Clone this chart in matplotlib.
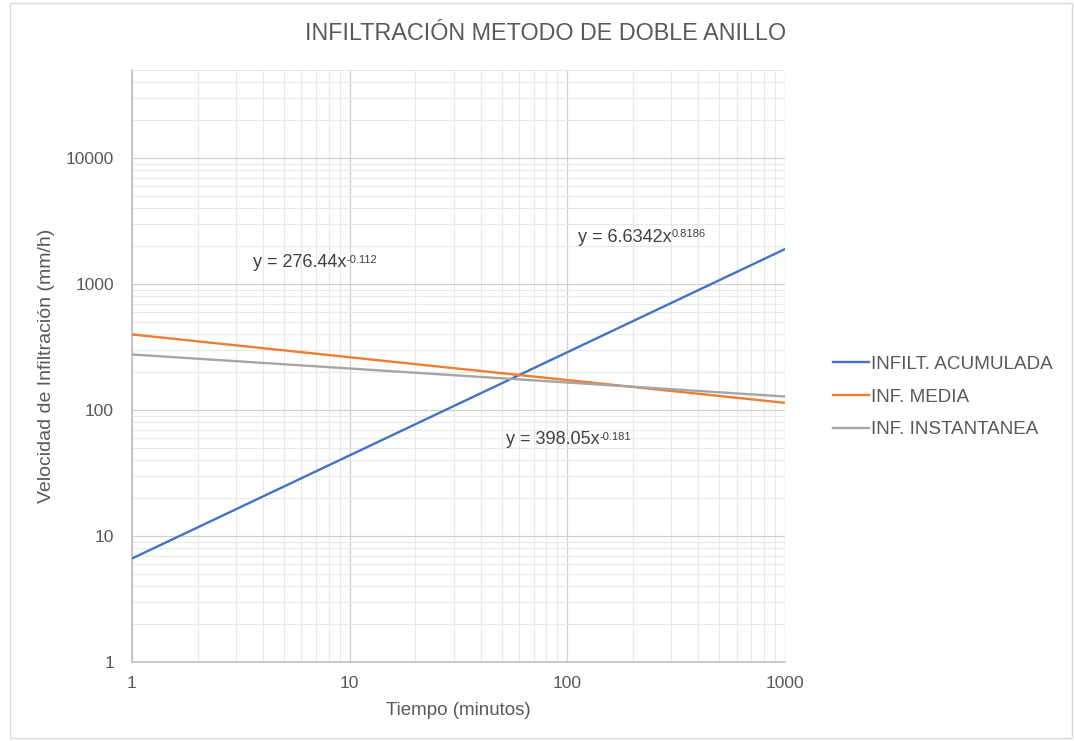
import matplotlib
matplotlib.use('Agg')
import matplotlib.pyplot as plt
from matplotlib.patches import Rectangle

# endpoints of the power trendlines (x in minutes, y in mm/h)
tiempo = [1, 1000]
inf_acumulada = [6.63, 1895]
inf_media = [398, 114]
inf_instantanea = [276, 128]

series_names = ['INFILT. ACUMULADA', 'INF. MEDIA', 'INF. INSTANTANEA']
series_colors = ['#4472C4', '#ED7D31', '#A5A5A5']

# trendline equations: base text, exponent, position (data coords)
eq_base = ['y = 276.44x', 'y = 6.6342x', 'y = 398.05x']
eq_exp = ['-0.112', '0.8186', '-0.181']
eq_pos = [(3.6, 1470), (112, 2360), (52, 58)]

plt.rcParams['font.family'] = ['Liberation Sans', 'DejaVu Sans']

txt = '#595959'

fig = plt.figure(figsize=(10.74, 7.41), dpi=100)
ax = fig.add_axes([132/1074, 79/741, 653/1074, 592/741])

for vals, name, col in zip([inf_acumulada, inf_media, inf_instantanea], series_names, series_colors):
	ax.plot(tiempo, vals, color=col, lw=1.7, label=name, zorder=3)

ax.set_xscale('log')
ax.set_yscale('log')
ax.set_xlim(1, 1000)
ax.set_ylim(1, 50000)

ax.grid(which='major', color='#D0D0D0', lw=0.9)
ax.grid(which='minor', color='#E8E8E8', lw=0.8)
ax.set_axisbelow(True)

ax.xaxis.set_major_formatter(matplotlib.ticker.FuncFormatter(lambda v, p: '%d' % v))
ax.yaxis.set_major_formatter(matplotlib.ticker.FuncFormatter(lambda v, p: '%d' % v))
ax.xaxis.set_minor_formatter(matplotlib.ticker.NullFormatter())
ax.yaxis.set_minor_formatter(matplotlib.ticker.NullFormatter())
ax.tick_params(which='both', length=0, colors=txt, labelsize=12.5)
ax.tick_params(axis='x', pad=10)
ax.tick_params(axis='y', pad=13)

for s in ['top', 'right']:
	ax.spines[s].set_visible(False)
for s in ['left', 'bottom']:
	ax.spines[s].set_color('#BFBFBF')
	ax.spines[s].set_linewidth(1.2)

ax.set_xlabel('Tiempo (minutos)', color=txt, fontsize=13.5, labelpad=8)
ax.set_ylabel('Velocidad de Infiltración (mm/h)', color=txt, fontsize=14, labelpad=8)

for base, ex, pos in zip(eq_base, eq_exp, eq_pos):
	t = ax.text(pos[0], pos[1], base, color='#404040', fontsize=13, va='center', ha='left')
	ax.annotate(ex, xy=(1, 0.95), xycoords=t, color='#404040', fontsize=8, va='top', ha='left')

fig.text(546/1074, 1 - 33/741, 'INFILTRACIÓN METODO DE DOBLE ANILLO', ha='center', va='center',
	color=txt, fontsize=16.8)

ax.legend(loc='center left', bbox_to_anchor=(824/1074, 1 - 397/741), bbox_transform=fig.transFigure,
	frameon=False, fontsize=13.6, labelcolor=txt, borderpad=0, handlelength=1.9,
	handletextpad=0.1, labelspacing=0.82)

fig.patches.append(Rectangle((10/1074, 3/741), 1062/1074, 735/741, transform=fig.transFigure,
	fill=False, edgecolor='#D9D9D9', lw=1))

fig.savefig('out.png', dpi=100, facecolor='white')
